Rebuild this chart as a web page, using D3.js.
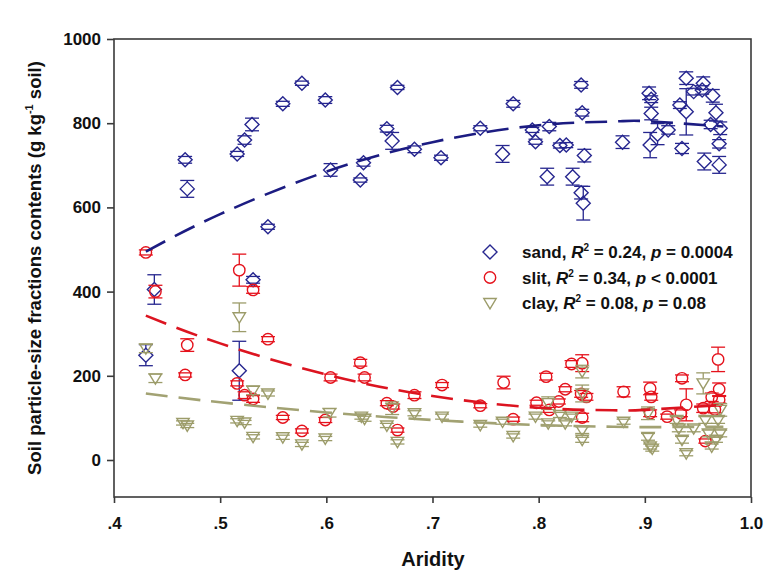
<!DOCTYPE html>
<html><head><meta charset="utf-8">
<script src="https://cdn.jsdelivr.net/npm/d3@7"></script>
<style>
html,body{margin:0;padding:0;background:#fff;}
text{font-family:"Liberation Sans",Arial,sans-serif;}
</style></head>
<body><svg id="c" width="776" height="575"></svg>
<script>
// ---- data ----
const sandX = [0.467,0.469,0.516,0.523,0.530,0.545,0.559,0.577,0.599,0.604,0.632,0.635,0.657,0.662,0.667,0.683,0.438,0.430,0.531,0.518,0.708,0.745,0.766,0.776,0.794,0.797,0.808,0.810,0.820,0.826,0.832,0.840,0.841,0.843,0.840,0.842,0.879,0.904,0.906,0.906,0.905,0.912,0.922,0.933,0.935,0.939,0.939,0.946,0.955,0.954,0.964,0.967,0.962,0.971,0.970,0.956,0.970];
const sandY = [713,644,727,760,797,554,846,895,855,689,665,706,787,758,885,738,405,249,428,212,718,788,727,846,784,756,673,792,747,748,673,891,825,723,635,610,755,871,857,823,748,774,784,843,740,907,827,875,895,879,865,825,797,788,751,709,701];
const sandErr = [8,20,6,10,15,6,6,5,8,15,5,8,8,20,5,8,35,25,8,70,6,6,20,8,6,6,20,10,6,6,20,8,8,15,15,40,15,15,8,15,30,25,10,8,12,15,55,8,15,10,15,20,10,15,10,20,20];

const slitX = [0.430,0.439,0.469,0.467,0.518,0.531,0.545,0.516,0.523,0.531,0.559,0.577,0.599,0.604,0.632,0.636,0.657,0.663,0.667,0.683,0.709,0.745,0.767,0.776,0.798,0.807,0.810,0.819,0.825,0.831,0.841,0.840,0.845,0.841,0.880,0.905,0.906,0.905,0.921,0.935,0.939,0.934,0.955,0.963,0.969,0.970,0.970,0.966,0.957];
const slitY = [493,400,273,202,451,404,287,182,154,145,101,69,95,196,231,196,135,127,71,154,178,129,184,97,136,198,119,139,168,228,230,157,150,101,162,170,150,111,103,194,131,111,123,149,239,168,143,120,45];
const slitErr = [6,15,15,5,38,8,6,6,8,8,5,5,6,8,8,8,6,6,5,8,6,5,15,5,6,8,6,6,6,8,20,8,8,10,12,15,8,8,6,8,38,8,10,10,29,15,8,8,5];

const clayX = [0.430,0.439,0.465,0.469,0.518,0.516,0.523,0.531,0.531,0.545,0.559,0.577,0.599,0.603,0.633,0.636,0.657,0.662,0.667,0.683,0.709,0.745,0.766,0.776,0.797,0.809,0.809,0.820,0.825,0.831,0.841,0.841,0.841,0.841,0.880,0.903,0.903,0.905,0.907,0.930,0.932,0.935,0.939,0.946,0.955,0.957,0.960,0.963,0.967,0.971,0.971,0.969];
const clayY = [265,194,88,82,339,93,89,55,165,158,54,37,51,112,103,98,82,123,43,111,103,83,91,57,103,135,87,107,87,103,210,158,71,48,91,111,55,32,27,95,75,48,16,75,182,95,63,32,48,119,63,95];
const clayErr = [10,10,5,5,34,5,5,5,10,6,5,5,5,10,6,6,5,15,5,6,6,5,6,5,6,15,6,6,6,6,15,20,8,6,6,15,8,6,6,8,8,8,6,8,25,8,8,6,6,15,8,8];

// fitted curves at these aridity values
const fitX    = [0.43, 0.50, 0.60, 0.70, 0.80, 0.87, 0.90, 0.974];
const sandFit = [495, 584, 685, 755, 795, 804, 805, 792];
const slitFit = [343, 277, 203, 152, 124, 118, 119, 131];
const clayFit = [158, 137, 113, 95, 83, 79, 78, 79];

const xTicks = [0.4,0.5,0.6,0.7,0.8,0.9,1.0];
const yTicks = [0,200,400,600,800,1000];

// ---- drawing ----
const svg = d3.select("#c");
const L=114, R=751, T=39, B=497;
const x = d3.scaleLinear().domain([0.4,1.0]).range([L,R]);
const y = d3.scaleLinear().domain([0,1000]).range([460,T]);

const C = {sand:"#26268f", slit:"#e5121c", clay:"#9c9c6a"};
const LC = {sand:"#1c1c82", slit:"#dc1420", clay:"#a2a273"};

// frame
svg.append("rect").attr("x",L).attr("y",T).attr("width",R-L).attr("height",B-T)
  .attr("fill","none").attr("stroke","#3a3a3a").attr("stroke-width",1.6);

// axes
const yAxis = d3.axisLeft(y).tickValues(yTicks).tickSize(7).tickPadding(6).tickFormat(d3.format("d"));
const gy = svg.append("g").attr("transform",`translate(${L},0)`).call(yAxis);
gy.select(".domain").remove();
const xAxis = d3.axisBottom(x).tickValues(xTicks).tickSize(6).tickPadding(14)
  .tickFormat(d => d===1 ? "1.0" : "." + Math.round(d*10));
const gx = svg.append("g").attr("transform",`translate(0,${B})`).call(xAxis);
gx.select(".domain").remove();
[gx,gy].forEach(g=>{
  g.selectAll("line").attr("stroke","#3a3a3a").attr("stroke-width",1.6);
  g.selectAll("text").attr("font-size",17).attr("font-weight","bold").attr("fill","#111")
   .style("font-family","'Liberation Sans',Arial,sans-serif");
});

// titles
svg.append("text").attr("x",433).attr("y",566).attr("text-anchor","middle")
  .attr("font-size",20).attr("font-weight","bold").attr("fill","#111").text("Aridity");
const yt = svg.append("text").attr("transform","translate(41,268) rotate(-90)")
  .attr("text-anchor","middle").attr("font-size",18.5).attr("font-weight","bold").attr("fill","#111");
yt.append("tspan").text("Soil particle-size fractions contents (g kg");
yt.append("tspan").attr("dy",-8).attr("font-size",11).text("-1");
yt.append("tspan").attr("dy",8).text(" soil)");

// marker shapes
const half = {sand:7, slit:5.7, clay:5};
function markerPath(kind){
  if(kind==="sand") return "M0,-7L7,0L0,7L-7,0Z";
  if(kind==="clay") return "M-6.2,-4.5L6.2,-4.5L0,5.8Z";
  return null;
}
function drawSeries(kind, X, Y, E){
  const g = svg.append("g");
  const col = C[kind];
  const data = X.map((v,i)=>({x:v,y:Y[i],e:E[i]}));
  data.forEach(d=>{
    const cx=x(d.x), cy=y(d.y), top=y(d.y+d.e), bot=y(d.y-d.e), h=half[kind];
    g.append("line").attr("x1",cx-7).attr("x2",cx+7).attr("y1",top).attr("y2",top).attr("stroke",col).attr("stroke-width",1.3);
    g.append("line").attr("x1",cx-7).attr("x2",cx+7).attr("y1",bot).attr("y2",bot).attr("stroke",col).attr("stroke-width",1.3);
    if(cy-top>h){
      g.append("line").attr("x1",cx).attr("x2",cx).attr("y1",top).attr("y2",cy-h).attr("stroke",col).attr("stroke-width",1.3);
      g.append("line").attr("x1",cx).attr("x2",cx).attr("y1",cy+h).attr("y2",bot).attr("stroke",col).attr("stroke-width",1.3);
    }
    if(kind==="slit"){
      g.append("circle").attr("cx",cx).attr("cy",cy).attr("r",5.7).attr("fill","none").attr("stroke",col).attr("stroke-width",1.4);
    } else {
      g.append("path").attr("d",markerPath(kind)).attr("transform",`translate(${cx},${cy})`)
        .attr("fill","none").attr("stroke",col).attr("stroke-width",1.4);
    }
  });
}
drawSeries("sand", sandX, sandY, sandErr);
drawSeries("slit", slitX, slitY, slitErr);
drawSeries("clay", clayX, clayY, clayErr);

// fit lines
const line = d3.line().x(d=>x(d[0])).y(d=>y(d[1])).curve(d3.curveNatural);
[["sand",sandFit],["slit",slitFit],["clay",clayFit]].forEach(([k,f])=>{
  svg.append("path").attr("d",line(fitX.map((v,i)=>[v,f[i]])))
    .attr("fill","none").attr("stroke",LC[k]).attr("stroke-width",2.6)
    .attr("stroke-dasharray","22,11");
});

// legend
const leg = [
  {k:"sand", name:"sand", r:"0.24", p:"= 0.0004"},
  {k:"slit", name:"slit", r:"0.34", p:"< 0.0001"},
  {k:"clay", name:"clay", r:"0.08", p:"= 0.08"}
];
leg.forEach((d,i)=>{
  const cy = 252 + i*25.5;
  if(d.k==="slit") svg.append("circle").attr("cx",490).attr("cy",cy).attr("r",5.7).attr("fill","none").attr("stroke",C.slit).attr("stroke-width",1.4);
  else svg.append("path").attr("d",markerPath(d.k)).attr("transform",`translate(490,${cy})`).attr("fill","none").attr("stroke",C[d.k]).attr("stroke-width",1.4);
  const t = svg.append("text").attr("x",522).attr("y",cy+6).attr("font-size",17).attr("font-weight","bold").attr("fill","#111");
  t.append("tspan").text(d.name+", ");
  t.append("tspan").attr("font-style","italic").text("R");
  t.append("tspan").attr("dy",-7).attr("font-size",10).text("2");
  t.append("tspan").attr("dy",7).text(" = "+d.r+", ");
  t.append("tspan").attr("font-style","italic").text("p");
  t.append("tspan").text(" "+d.p);
});
</script>
</body></html>
